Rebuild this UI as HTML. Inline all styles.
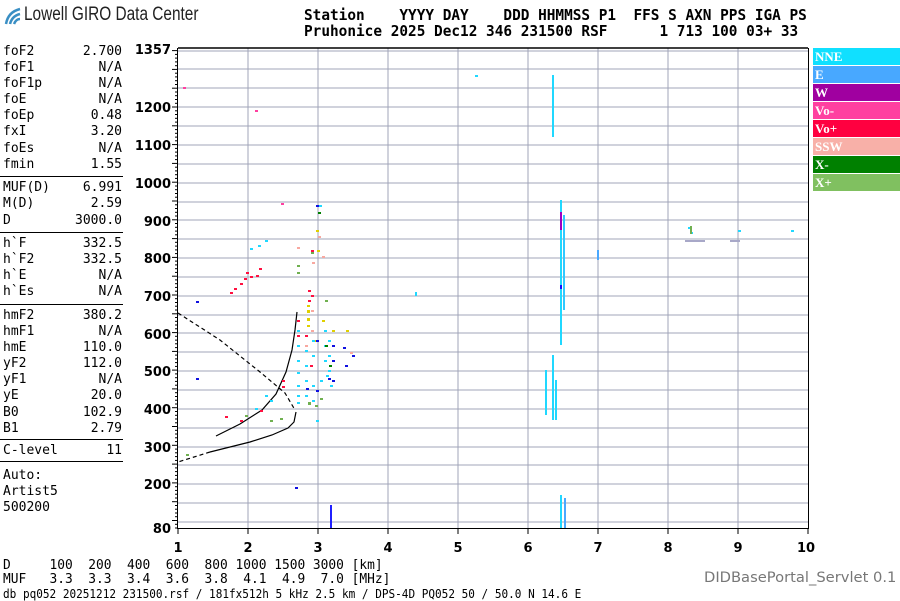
<!DOCTYPE html>
<html><head><meta charset="utf-8">
<style>
body{margin:0;width:900px;height:600px;background:#fff;overflow:hidden;position:relative;font-family:"DejaVu Sans Mono","Liberation Mono",monospace;}
.t{position:absolute;white-space:pre;font-size:13px;color:#000;line-height:14px}
.hd{position:absolute;white-space:pre;font-family:"DejaVu Sans Mono","Liberation Mono",monospace;font-weight:bold;font-size:15px;transform:scaleX(0.96);transform-origin:left top;letter-spacing:0px}
.lg{position:absolute;left:813px;width:87px;height:17px;color:#fff;font-family:"Liberation Serif",serif;font-weight:bold;font-size:13px;line-height:17px;padding-left:2px;box-sizing:border-box}
</style></head><body>
<svg style="position:absolute;left:4px;top:6px" width="30" height="20"><path d="M2 18 Q4 6 16 3" stroke="#3a8fc4" stroke-width="2.5" fill="none"/><path d="M6 18 Q8 10 16 8" stroke="#3a8fc4" stroke-width="2.5" fill="none"/><path d="M10 18 Q12 13 16 13" stroke="#3a8fc4" stroke-width="2.5" fill="none"/></svg>
<div class="t" style="left:24px;top:5px;font-family:'Liberation Sans',sans-serif;font-size:19px;line-height:20px;color:#222;transform:scaleX(0.81);transform-origin:left top">Lowell GIRO Data Center</div>
<div class="hd" style="left:304px;top:6px">Station    YYYY DAY    DDD HHMMSS P1  FFS S AXN PPS IGA PS</div>
<div class="hd" style="left:304px;top:22px">Pruhonice 2025 Dec12 346 231500 RSF      1 713 100 03+ 33</div>

<div class="t" style="left:62px;top:44px;text-align:right;width:60px;line-height:16.1px">2.700
N/A
N/A
N/A
0.48
3.20
N/A
1.55</div>
<div class="t" style="left:3px;top:44px;line-height:16.1px">foF2
foF1
foF1p
foE
foEp
fxI
foEs
fmin</div>
<div style="position:absolute;left:0;top:176px;width:123px;height:1px;background:#000"></div>
<div class="t" style="left:3px;top:180px;line-height:16.3px">MUF(D)
M(D)
D</div>
<div class="t" style="left:62px;top:180px;text-align:right;width:60px;line-height:16.3px">6.991
2.59
3000.0</div>
<div style="position:absolute;left:0;top:232px;width:123px;height:1px;background:#000"></div>
<div class="t" style="left:3px;top:236px;line-height:16.1px">h`F
h`F2
h`E
h`Es</div>
<div class="t" style="left:62px;top:236px;text-align:right;width:60px;line-height:16.1px">332.5
332.5
N/A
N/A</div>
<div style="position:absolute;left:0;top:304px;width:123px;height:1px;background:#000"></div>
<div class="t" style="left:3px;top:308px;line-height:16.1px">hmF2
hmF1
hmE
yF2
yF1
yE
B0
B1</div>
<div class="t" style="left:62px;top:308px;text-align:right;width:60px;line-height:16.1px">380.2
N/A
110.0
112.0
N/A
20.0
102.9
2.79</div>
<div style="position:absolute;left:0;top:439px;width:123px;height:1px;background:#000"></div>
<div class="t" style="left:3px;top:444px">C-level</div>
<div class="t" style="left:62px;top:444px;text-align:right;width:60px">11</div>
<div style="position:absolute;left:0;top:461px;width:123px;height:1px;background:#000"></div>
<div class="t" style="left:3px;top:468px;line-height:16.1px">Auto:
Artist5
500200</div>

<svg style="position:absolute;left:0;top:0" width="900" height="600">
<g stroke="#a0a4b8" stroke-width="1">
<line x1="248" y1="48" x2="248" y2="528"/><line x1="318" y1="48" x2="318" y2="528"/><line x1="388" y1="48" x2="388" y2="528"/><line x1="458" y1="48" x2="458" y2="528"/><line x1="528" y1="48" x2="528" y2="528"/><line x1="598" y1="48" x2="598" y2="528"/><line x1="668" y1="48" x2="668" y2="528"/><line x1="738" y1="48" x2="738" y2="528"/>
<line x1="178" y1="51" x2="808" y2="51"/><line x1="178" y1="69" x2="808" y2="69"/><line x1="178" y1="88" x2="808" y2="88"/><line x1="178" y1="107" x2="808" y2="107"/><line x1="178" y1="126" x2="808" y2="126"/><line x1="178" y1="145" x2="808" y2="145"/><line x1="178" y1="164" x2="808" y2="164"/><line x1="178" y1="183" x2="808" y2="183"/><line x1="178" y1="202" x2="808" y2="202"/><line x1="178" y1="220" x2="808" y2="220"/><line x1="178" y1="239" x2="808" y2="239"/><line x1="178" y1="258" x2="808" y2="258"/><line x1="178" y1="277" x2="808" y2="277"/><line x1="178" y1="296" x2="808" y2="296"/><line x1="178" y1="315" x2="808" y2="315"/><line x1="178" y1="333" x2="808" y2="333"/><line x1="178" y1="352" x2="808" y2="352"/><line x1="178" y1="371" x2="808" y2="371"/><line x1="178" y1="390" x2="808" y2="390"/><line x1="178" y1="409" x2="808" y2="409"/><line x1="178" y1="428" x2="808" y2="428"/><line x1="178" y1="447" x2="808" y2="447"/><line x1="178" y1="465" x2="808" y2="465"/><line x1="178" y1="484" x2="808" y2="484"/><line x1="178" y1="503" x2="808" y2="503"/><line x1="178" y1="522" x2="808" y2="522"/>
</g>
<g stroke="#000" stroke-width="1">
<line x1="178" y1="48" x2="808" y2="48" stroke-width="1.5"/>
<line x1="177.5" y1="48" x2="177.5" y2="529"/>
<line x1="808.5" y1="48" x2="808.5" y2="529"/>
<line x1="177" y1="528.5" x2="809" y2="528.5"/>
</g>
<g id="ticks" stroke="#000"></g>
<g font-family="'DejaVu Sans',sans-serif" font-weight="bold" font-size="13" text-anchor="end" fill="#000">
<text x="171" y="54">1357</text><text x="171" y="112">1200</text><text x="171" y="150">1100</text><text x="171" y="188">1000</text><text x="171" y="226">900</text><text x="171" y="263">800</text><text x="171" y="301">700</text><text x="171" y="339">600</text><text x="171" y="376">500</text><text x="171" y="414">400</text><text x="171" y="452">300</text><text x="171" y="489">200</text><text x="171" y="533">80</text>
</g>
<g font-family="'DejaVu Sans',sans-serif" font-weight="bold" font-size="13" text-anchor="middle" fill="#000">
<text x="178" y="552">1</text><text x="248" y="552">2</text><text x="318" y="552">3</text><text x="388" y="552">4</text><text x="458" y="552">5</text><text x="528" y="552">6</text><text x="598" y="552">7</text><text x="668" y="552">8</text><text x="738" y="552">9</text><text x="806" y="552">10</text>
</g>
<path d="M216 436 L240 424 L262 410 L276 394 L286 372 L292 350 L295 330 L297 312" stroke="#000" fill="none" stroke-width="1.2"/>
<path d="M296 412 L294 422 L288 428 L272 435 L250 442 L230 447 L210 452" stroke="#000" fill="none" stroke-width="1.2"/>
<path d="M210 452 L178 462" stroke="#000" fill="none" stroke-width="1.2" stroke-dasharray="4,3"/>
<path d="M178 313 L220 340 L260 372 L285 393 L295 410" stroke="#000" fill="none" stroke-width="1.2" stroke-dasharray="4,3"/>
<g>
<rect x="552" y="75" width="2" height="62" fill="#20d8ff"/>
<rect x="560" y="200" width="2" height="145" fill="#20d8ff"/>
<rect x="563" y="215" width="2" height="95" fill="#30c8ff"/>
<rect x="560" y="212" width="2" height="18" fill="#a000c0"/>
<rect x="560" y="285" width="2" height="4" fill="#1010ff"/>
<rect x="552" y="355" width="2" height="65" fill="#20d8ff"/>
<rect x="555" y="380" width="2" height="40" fill="#20d8ff"/>
<rect x="560" y="495" width="2" height="33" fill="#20d8ff"/>
<rect x="564" y="498" width="2" height="30" fill="#4aa8ff"/>
<rect x="597" y="250" width="2" height="10" fill="#4aa8ff"/>
<rect x="330" y="505" width="2" height="23" fill="#2020ff"/>
<rect x="545" y="370" width="2" height="45" fill="#20d8ff"/>
</g>
<g fill="#20d8ff">
<rect x="297" y="330" width="3" height="2"/><rect x="297" y="345" width="3" height="2"/><rect x="297" y="360" width="3" height="2"/><rect x="297" y="372" width="3" height="2"/><rect x="297" y="385" width="3" height="2"/><rect x="297" y="395" width="3" height="2"/><rect x="297" y="402" width="3" height="2"/>
<rect x="305" y="350" width="3" height="2"/><rect x="305" y="365" width="3" height="2"/><rect x="305" y="380" width="3" height="2"/><rect x="305" y="395" width="3" height="2"/>
<rect x="312" y="340" width="3" height="2"/><rect x="312" y="355" width="3" height="2"/><rect x="312" y="385" width="3" height="2"/><rect x="312" y="400" width="3" height="2"/><rect x="316" y="420" width="3" height="2"/>
<rect x="324" y="330" width="3" height="2"/><rect x="324" y="345" width="3" height="2"/><rect x="324" y="360" width="3" height="2"/><rect x="326" y="375" width="3" height="2"/><rect x="328" y="340" width="3" height="2"/><rect x="328" y="355" width="3" height="2"/><rect x="328" y="370" width="3" height="2"/><rect x="330" y="385" width="3" height="2"/><rect x="320" y="380" width="3" height="2"/>
<rect x="250" y="248" width="3" height="2"/><rect x="258" y="245" width="3" height="2"/><rect x="265" y="240" width="3" height="2"/>
<rect x="265" y="395" width="3" height="2"/><rect x="270" y="400" width="3" height="2"/><rect x="255" y="408" width="3" height="2"/>
<rect x="475" y="75" width="3" height="2"/><rect x="319" y="205" width="3" height="2"/>
<rect x="688" y="227" width="3" height="2"/><rect x="690" y="232" width="3" height="2"/><rect x="738" y="230" width="3" height="2"/><rect x="791" y="230" width="3" height="2"/><rect x="415" y="292" width="2" height="4"/>
</g>
<g fill="#ff1040">
<rect x="230" y="292" width="3" height="2"/><rect x="234" y="288" width="3" height="2"/><rect x="240" y="283" width="3" height="2"/><rect x="244" y="278" width="3" height="2"/><rect x="246" y="272" width="3" height="2"/><rect x="250" y="276" width="3" height="2"/><rect x="256" y="275" width="3" height="2"/><rect x="259" y="268" width="3" height="2"/>
<rect x="297" y="320" width="3" height="2"/><rect x="297" y="335" width="3" height="2"/><rect x="308" y="290" width="3" height="2"/><rect x="308" y="300" width="3" height="2"/><rect x="311" y="295" width="3" height="2"/><rect x="311" y="250" width="3" height="2"/><rect x="282" y="380" width="3" height="2"/><rect x="282" y="386" width="3" height="2"/><rect x="225" y="416" width="3" height="2"/><rect x="240" y="420" width="3" height="2"/><rect x="260" y="410" width="3" height="2"/><rect x="310" y="365" width="3" height="2"/><rect x="305" y="335" width="3" height="2"/>
</g>
<g fill="#e0d000">
<rect x="307" y="305" width="3" height="2"/><rect x="307" y="310" width="3" height="3"/><rect x="307" y="318" width="3" height="3"/><rect x="307" y="325" width="3" height="2"/><rect x="316" y="230" width="3" height="2"/><rect x="322" y="320" width="3" height="2"/><rect x="315" y="340" width="3" height="2"/><rect x="332" y="330" width="3" height="2"/><rect x="346" y="330" width="3" height="2"/><rect x="317" y="250" width="3" height="2"/>
</g>
<g fill="#f8a8a0">
<rect x="311" y="310" width="3" height="2"/><rect x="311" y="330" width="3" height="2"/><rect x="305" y="345" width="3" height="2"/><rect x="318" y="236" width="3" height="2"/><rect x="297" y="247" width="3" height="2"/><rect x="322" y="256" width="3" height="2"/><rect x="350" y="352" width="3" height="2"/><rect x="312" y="262" width="3" height="2"/>
</g>
<g fill="#1010e0">
<rect x="316" y="205" width="3" height="2"/><rect x="316" y="340" width="3" height="2"/><rect x="316" y="390" width="3" height="2"/><rect x="328" y="378" width="3" height="2"/><rect x="332" y="345" width="3" height="2"/><rect x="332" y="360" width="3" height="2"/><rect x="343" y="347" width="3" height="2"/><rect x="345" y="365" width="3" height="2"/><rect x="352" y="355" width="3" height="2"/><rect x="196" y="301" width="3" height="2"/><rect x="196" y="378" width="3" height="2"/><rect x="306" y="388" width="3" height="2"/><rect x="332" y="380" width="3" height="2"/><rect x="295" y="487" width="3" height="2"/>
</g>
<g fill="#70b050">
<rect x="297" y="265" width="3" height="2"/><rect x="297" y="272" width="3" height="2"/><rect x="311" y="252" width="3" height="2"/><rect x="315" y="405" width="3" height="2"/><rect x="308" y="402" width="3" height="3"/><rect x="320" y="398" width="3" height="2"/><rect x="325" y="300" width="3" height="2"/><rect x="245" y="415" width="3" height="2"/><rect x="270" y="420" width="3" height="2"/><rect x="280" y="418" width="3" height="2"/><rect x="690" y="226" width="2" height="8"/><rect x="186" y="454" width="3" height="2"/>
</g>
<g fill="#008000">
<rect x="325" y="345" width="3" height="2"/><rect x="329" y="365" width="3" height="2"/><rect x="318" y="212" width="3" height="2"/>
</g>
<g fill="#ff40a0">
<rect x="281" y="203" width="3" height="2"/><rect x="183" y="87" width="3" height="2"/><rect x="255" y="110" width="3" height="2"/>
</g>
<g fill="#a8a8c8"><rect x="685" y="240" width="20" height="2"/><rect x="730" y="240" width="10" height="2"/></g>
</svg>

<div class="lg" style="top:48px;background:#10e0ff">NNE</div>
<div class="lg" style="top:66px;background:#48a8ff">E</div>
<div class="lg" style="top:84px;background:#a000a0">W</div>
<div class="lg" style="top:102px;background:#ff40a0">Vo-</div>
<div class="lg" style="top:120px;background:#ff0040">Vo+</div>
<div class="lg" style="top:138px;background:#f8b0a8">SSW</div>
<div class="lg" style="top:156px;background:#008000">X-</div>
<div class="lg" style="top:174px;background:#80c060">X+</div>

<div class="t" style="left:3px;top:559px;font-size:13px;transform:scaleX(0.99);transform-origin:left top">D     100  200  400  600  800 1000 1500 3000 [km]</div>
<div class="t" style="left:3px;top:573px;font-size:13px;transform:scaleX(0.99);transform-origin:left top">MUF   3.3  3.3  3.4  3.6  3.8  4.1  4.9  7.0 [MHz]</div>
<div class="t" style="left:3px;top:587px;font-size:12px;transform:scaleX(0.92);transform-origin:left top">db pq052 20251212 231500.rsf / 181fx512h 5 kHz 2.5 km / DPS-4D PQ052 50 / 50.0 N 14.6 E</div>
<div class="t" style="left:704px;top:571px;font-family:'DejaVu Sans',sans-serif;font-size:14px;color:#777;transform:scaleX(1.05);transform-origin:left top">DIDBasePortal_Servlet 0.1</div>
<script>
var g=document.getElementById('ticks'),s='';
for(var h=80;h<=1357;h+=10){var y=48+(1357-h)*0.3759;var L=(h%50==0)?6:3;s+='<line x1="'+(178-L)+'" y1="'+y.toFixed(1)+'" x2="178" y2="'+y.toFixed(1)+'"/>';}
for(var f=1;f<=10;f++){var x=178+70*(f-1);s+='<line x1="'+x+'" y1="528" x2="'+x+'" y2="534"/>';}
g.innerHTML=s;
</script>
</body></html>
